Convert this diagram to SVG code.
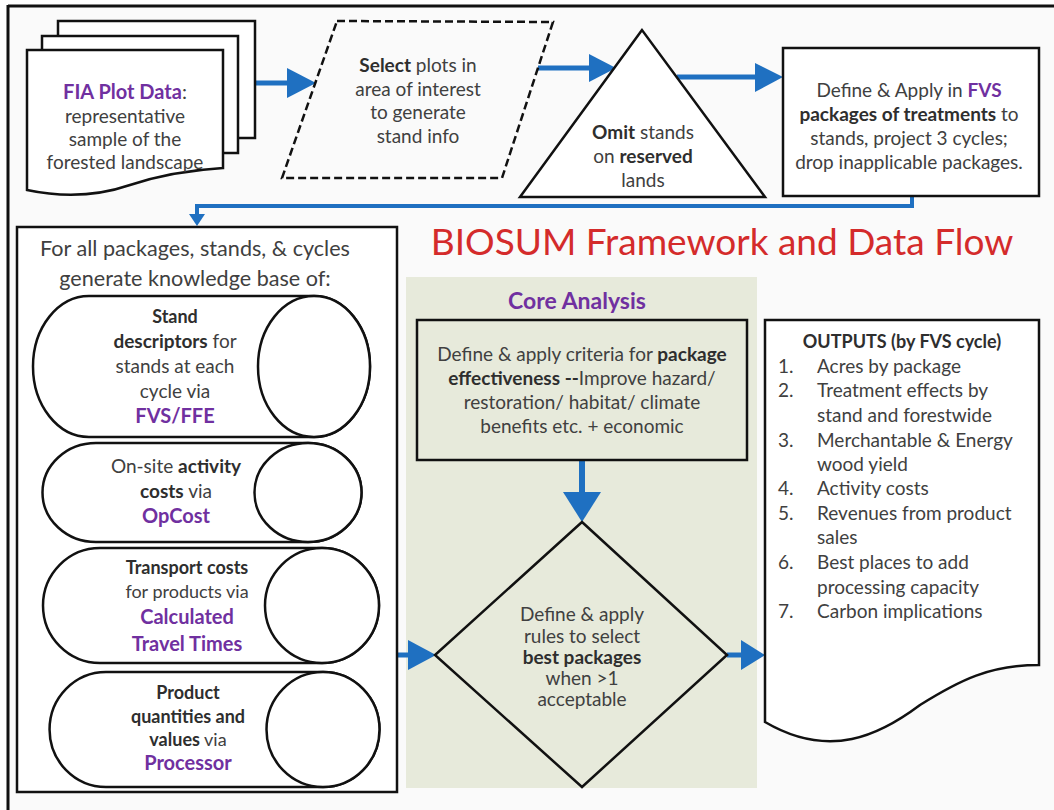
<svg xmlns="http://www.w3.org/2000/svg" width="1054" height="810" viewBox="0 0 1054 810">
  <defs>
    <style>
      text { font-family: Lato, "Open Sans", "Liberation Sans", sans-serif; fill: #404040; }
      .t18 { font-size: 18px; }
      .t19 { font-size: 19px; }
      .c { text-anchor: middle; }
      .b { font-weight: bold; fill: #2e2e2e; }
      .p { font-weight: bold; fill: #7030a0; }
      .shape { fill: #ffffff; stroke: #111111; stroke-width: 2.5; }
      .flow { fill: none; stroke: #1f70c1; stroke-width: 5; }
      .head { fill: #1f70c1; }
    </style>
  </defs>

  <!-- page -->
  <rect x="0" y="0" width="1054" height="810" fill="#ffffff"/>
  <rect x="9" y="7" width="1045" height="803" fill="#fafafa"/>
  <line x1="8" y1="6" x2="1054" y2="6" stroke="#111" stroke-width="3"/>
  <line x1="8" y1="5" x2="8" y2="810" stroke="#111" stroke-width="3"/>

  <!-- core analysis panel -->
  <rect x="406" y="277" width="351" height="511" fill="#e7eadb"/>

  <!-- title -->
  <text x="722" y="255" class="c" style="font-size:37px;fill:#d42b2b">BIOSUM Framework and Data Flow</text>

  <!-- connectors -->
  <g id="connectors">
    <line class="flow" x1="255" y1="83" x2="290" y2="83"/>
    <polygon class="head" points="287,68 316,83 287,98"/>
    <line class="flow" x1="538" y1="68" x2="592" y2="68"/>
    <polygon class="head" points="589,54 616,68 589,82"/>
    <line class="flow" x1="677" y1="77" x2="758" y2="77"/>
    <polygon class="head" points="755,63 783,77 755,92"/>
    <polyline class="flow" points="912,196 912,206 197,206 197,216" style="stroke-width:4"/>
    <polygon class="head" points="189,214 205,214 197,226"/>
    <line class="flow" x1="582" y1="460" x2="582" y2="495" style="stroke-width:6"/>
    <polygon class="head" points="563,492 601,492 582,522"/>
    <line class="flow" x1="398" y1="655" x2="412" y2="655"/>
    <polygon class="head" points="408,640 436,655 408,670"/>
    <line class="flow" x1="727" y1="655" x2="745" y2="655"/>
    <polygon class="head" points="741,640 765,655 741,670"/>
  </g>

  <!-- stacked plot documents -->
  <g id="fia-plot-data">
    <path class="shape" d="M58,21 H255 V138 H58 Z"/>
    <path class="shape" d="M42,36 H238 V153 H42 Z"/>
    <path class="shape" d="M27,50 H223 V168 C190,170 160,175 130,185 C95,197 60,197 27,190 Z"/>
    <text x="125" y="99" class="c p" style="font-size:20px">FIA Plot Data<tspan style="font-weight:normal;fill:#404040">:</tspan></text>
    <text x="125" y="123" class="c t19">representative</text>
    <text x="125" y="146" class="c t19">sample of the</text>
    <text x="125" y="169" class="c t19">forested landscape</text>
  </g>

  <g id="select-plots">
    <polygon points="337,21 553,22 502,178 282,178" fill="none" stroke="#111" stroke-width="2.5" stroke-dasharray="8,4"/>
    <text x="418" y="72" class="c t19"><tspan class="b">Select</tspan> plots in</text>
    <text x="418" y="96" class="c t19">area of interest</text>
    <text x="418" y="119" class="c t19">to generate</text>
    <text x="418" y="143" class="c t19">stand info</text>
  </g>

  <g id="omit-reserved">
    <polygon class="shape" points="642,30 520,197 765,197"/>
    <text x="643" y="139" class="c t19"><tspan class="b">Omit</tspan> stands</text>
    <text x="643" y="163" class="c t19">on <tspan class="b">reserved</tspan></text>
    <text x="643" y="187" class="c t19">lands</text>
  </g>

  <g id="fvs-packages">
    <rect class="shape" x="783" y="48" width="256" height="148"/>
    <text x="909" y="97" class="c t19">Define &amp; Apply in <tspan class="p">FVS</tspan></text>
    <text x="909" y="121" class="c t19"><tspan class="b">packages of treatments</tspan> to</text>
    <text x="909" y="145" class="c t19">stands, project 3 cycles;</text>
    <text x="909" y="169" class="c t19">drop inapplicable packages.</text>
  </g>

  <!-- knowledge base -->
  <g id="knowledge-base">
    <rect class="shape" x="17" y="227" width="380" height="565"/>
    <text x="195" y="256" class="c" style="font-size:21.6px">For all packages, stands, &amp; cycles</text>
    <text x="195" y="286" class="c" style="font-size:21.6px">generate knowledge base of:</text>
  </g>

  <g id="fvs-ffe">
    <path class="shape" d="M89,296 H314 A56,70.5 0 0 1 314,437 H89 A56,70.5 0 0 1 89,296 Z"/>
    <ellipse class="shape" cx="314" cy="366.5" rx="56" ry="70.5"/>
    <text x="175" y="323" class="c b t18">Stand</text>
    <text x="175" y="348" class="c t19"><tspan class="b">descriptors</tspan> for</text>
    <text x="175" y="373" class="c t19">stands at each</text>
    <text x="175" y="398" class="c t19">cycle via</text>
    <text x="175" y="423" class="c p" style="font-size:20px">FVS/FFE</text>
  </g>

  <g id="opcost">
    <path class="shape" d="M96,443 H308 A53.5,49.5 0 0 1 308,542 H96 A53.5,49.5 0 0 1 96,443 Z"/>
    <ellipse class="shape" cx="308" cy="492.5" rx="53.5" ry="49.5"/>
    <text x="176" y="473" class="c t19">On-site <tspan class="b">activity</tspan></text>
    <text x="176" y="498" class="c t19"><tspan class="b">costs</tspan> via</text>
    <text x="176" y="523" class="c p" style="font-size:20px">OpCost</text>
  </g>

  <g id="travel-times">
    <path class="shape" d="M100,548 H322 A57,57.5 0 0 1 322,663 H100 A57,57.5 0 0 1 100,548 Z"/>
    <ellipse class="shape" cx="322" cy="605.5" rx="57" ry="57.5"/>
    <text x="187" y="574" class="c b t18">Transport costs</text>
    <text x="187" y="598" class="c t18">for products via</text>
    <text x="187" y="624" class="c p" style="font-size:20px">Calculated</text>
    <text x="187" y="651" class="c p" style="font-size:20px">Travel Times</text>
  </g>

  <g id="processor">
    <path class="shape" d="M106,672 H323 A56.5,57.5 0 0 1 323,787 H106 A56.5,57.5 0 0 1 106,672 Z"/>
    <ellipse class="shape" cx="323" cy="729.5" rx="56.5" ry="57.5"/>
    <text x="188" y="699" class="c b t18">Product</text>
    <text x="188" y="723" class="c b t18">quantities and</text>
    <text x="188" y="746" class="c t18"><tspan class="b">values</tspan> via</text>
    <text x="188" y="770" class="c p" style="font-size:20px">Processor</text>
  </g>

  <!-- core analysis -->
  <text x="577" y="309" class="c p" style="font-size:23px">Core Analysis</text>

  <g id="effectiveness-criteria">
    <rect x="417" y="320" width="330" height="140" fill="none" stroke="#111" stroke-width="2.5"/>
    <text x="582" y="361" class="c t19">Define &amp; apply criteria for <tspan class="b">package</tspan></text>
    <text x="582" y="385" class="c t19"><tspan class="b">effectiveness --</tspan>Improve hazard/</text>
    <text x="582" y="409" class="c t19">restoration/ habitat/ climate</text>
    <text x="582" y="433" class="c t19">benefits etc. + economic</text>
  </g>

  <g id="best-packages">
    <polygon points="582,522 727,655 582,787 435,655" fill="none" stroke="#111" stroke-width="2.5"/>
    <text x="582" y="621" class="c t19">Define &amp; apply</text>
    <text x="582" y="643" class="c t19">rules to select</text>
    <text x="582" y="664" class="c b t19">best packages</text>
    <text x="582" y="685" class="c t19">when &gt;1</text>
    <text x="582" y="706" class="c t19">acceptable</text>
  </g>

  <g id="outputs">
    <path class="shape" d="M765,320 H1039 V665 C990,665 960,680 920,705 C880,735 830,760 765,722 Z"/>
    <text x="902" y="348" class="c b t18">OUTPUTS (by FVS cycle)</text>
    <g class="t19">
      <text x="778" y="373">1.</text><text x="817" y="373">Acres by package</text>
      <text x="778" y="397">2.</text><text x="817" y="397">Treatment effects by</text>
      <text x="817" y="422">stand and forestwide</text>
      <text x="778" y="447">3.</text><text x="817" y="447">Merchantable &amp; Energy</text>
      <text x="817" y="471">wood yield</text>
      <text x="778" y="495">4.</text><text x="817" y="495">Activity costs</text>
      <text x="778" y="520">5.</text><text x="817" y="520">Revenues from product</text>
      <text x="817" y="544">sales</text>
      <text x="778" y="569">6.</text><text x="817" y="569">Best places to add</text>
      <text x="817" y="594">processing capacity</text>
      <text x="778" y="618">7.</text><text x="817" y="618">Carbon implications</text>
    </g>
  </g>
</svg>
